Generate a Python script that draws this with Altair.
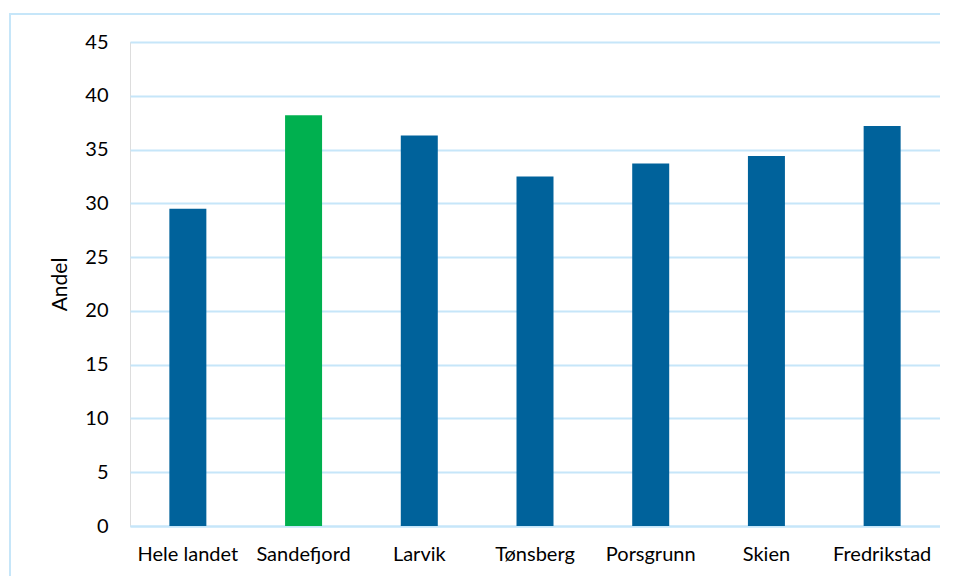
import altair as alt
import pandas as pd

categories = ["Hele landet", "Sandefjord", "Larvik", "Tønsberg", "Porsgrunn", "Skien", "Fredrikstad"]
values = [29.5, 38.2, 36.3, 32.5, 33.7, 34.4, 37.2]
colors = ["#00629b", "#00b04f", "#00629b", "#00629b", "#00629b", "#00629b", "#00629b"]

df = pd.DataFrame({"kommune": categories, "andel": values, "farge": colors})

W, H = 810, 484
PL, PT = 122, 34

bars = alt.Chart(df).mark_bar(size=37).encode(
    x=alt.X("kommune:N", sort=categories, title=None,
            scale=alt.Scale(paddingInner=0.68, paddingOuter=0.34),
            axis=alt.Axis(labelAngle=0, labelFontSize=20, labelFont="Lato", labelColor="#000000",
                          labelPadding=18, ticks=False, domain=True, domainColor="#c6e6f9",
                          domainWidth=2, grid=False)),
    y=alt.Y("andel:Q", title="Andel", scale=alt.Scale(domain=[0, 45], nice=False),
            axis=alt.Axis(values=list(range(0, 50, 5)), labelFontSize=20, labelFont="Lato",
                          labelColor="#000000", labelPadding=22, ticks=False, domain=False,
                          grid=True, gridColor="#c6e6f9", gridWidth=2,
                          titleFontSize=21, titleFont="Lato", titleFontWeight="normal",
                          titleColor="#000000", titlePadding=14)),
    color=alt.Color("farge:N", scale=None),
)

frame = alt.Chart(df).mark_rect(fill=None, stroke="#c6e6f9", strokeWidth=2, clip=False).encode(
    x=alt.value(-PL + 2), x2=alt.value(W + 40), y=alt.value(-PT + 6), y2=alt.value(H + 80)
)

chart = alt.layer(frame, bars).properties(
    width=W, height=H,
    autosize=alt.AutoSizeParams(type="none"),
    padding={"left": PL, "top": PT, "right": 0, "bottom": 50},
).configure_view(stroke=None).configure(background="#ffffff")

chart.save("out.html", embed_options={"renderer": "svg", "actions": False})
